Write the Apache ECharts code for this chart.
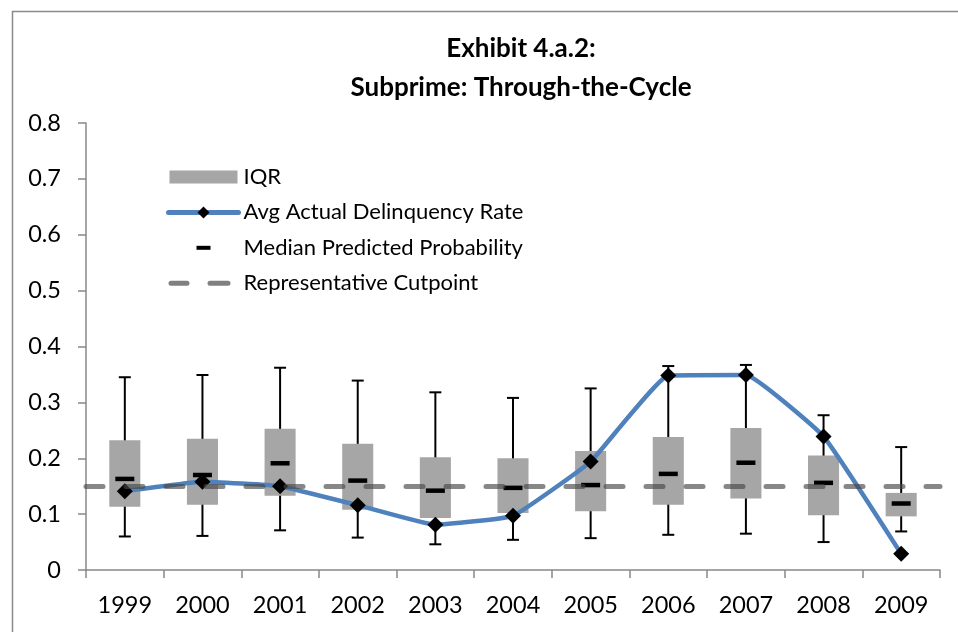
<!DOCTYPE html>
<html>
<head>
<meta charset="utf-8">
<script src="https://cdn.jsdelivr.net/npm/echarts@6/dist/echarts.min.js"></script>
<style>
  html, body { margin: 0; padding: 0; background: #fff; }
  #chart { width: 958px; height: 632px; }
</style>
</head>
<body>
<div id="chart"></div>
<script>
var years = ["1999", "2000", "2001", "2002", "2003", "2004", "2005", "2006", "2007", "2008", "2009"];
var whiskerLow = [0.060, 0.061, 0.071, 0.058, 0.046, 0.054, 0.057, 0.063, 0.065, 0.050, 0.069];
var q1 = [0.113, 0.117, 0.133, 0.108, 0.093, 0.102, 0.105, 0.117, 0.128, 0.098, 0.096];
var q3 = [0.232, 0.235, 0.253, 0.226, 0.202, 0.200, 0.213, 0.238, 0.254, 0.205, 0.138];
var whiskerHigh = [0.345, 0.349, 0.362, 0.339, 0.318, 0.308, 0.325, 0.365, 0.367, 0.277, 0.220];
var medianPred = [0.163, 0.170, 0.191, 0.160, 0.142, 0.147, 0.152, 0.172, 0.192, 0.156, 0.119];
var avgActual = [0.141, 0.158, 0.150, 0.116, 0.081, 0.097, 0.194, 0.348, 0.349, 0.239, 0.029];
var cutpoint = 0.15;
var yTicks = [0, 0.8, 0.1]; // min, max, step

var FONT = "Lato";
var DASH = "rgba(70,70,70,0.65)";
var boxData = years.map(function (y, i) {
  return [i, whiskerLow[i], q1[i], q3[i], whiskerHigh[i]];
});
var medianData = years.map(function (y, i) {
  return [i, medianPred[i]];
});

function renderBox(params, api) {
  var x = api.value(0);
  var low = api.coord([x, api.value(1)]);
  var bot = api.coord([x, api.value(2)]);
  var top = api.coord([x, api.value(3)]);
  var high = api.coord([x, api.value(4)]);
  var bw = api.size([1, 0])[0] * 0.4;
  var cw = 12;
  var st = { stroke: "#000", lineWidth: 2 };
  return {
    type: "group",
    children: [
      { type: "line", shape: { x1: low[0], y1: low[1], x2: high[0], y2: high[1] }, style: st },
      { type: "line", shape: { x1: low[0] - cw / 2, y1: low[1], x2: low[0] + cw / 2, y2: low[1] }, style: st },
      { type: "line", shape: { x1: high[0] - cw / 2, y1: high[1], x2: high[0] + cw / 2, y2: high[1] }, style: st },
      { type: "rect", shape: { x: top[0] - bw / 2, y: top[1], width: bw, height: bot[1] - top[1] }, style: { fill: "#a6a6a6" } }
    ]
  };
}

function renderMedian(params, api) {
  var p = api.coord([api.value(0), api.value(1)]);
  return {
    type: "rect",
    shape: { x: p[0] - 9.5, y: p[1] - 2.25, width: 19, height: 4.5 },
    style: { fill: "#000" }
  };
}

var myChart = echarts.init(document.getElementById("chart"));
var option = {
  animation: false,
  backgroundColor: "#fff",
  graphic: [
    {
      type: "rect",
      left: 10,
      top: 9,
      shape: { width: 1000, height: 700 },
      style: { fill: "none", stroke: "#8a8a8a", lineWidth: 1.5 },
      silent: true
    }
  ],
  title: {
    text: "Exhibit 4.a.2:\nSubprime: Through-the-Cycle",
    left: 516,
    top: 24,
    textAlign: "center",
    textStyle: {
      fontFamily: FONT,
      fontWeight: "bold",
      fontSize: 26,
      lineHeight: 39,
      color: "#000"
    }
  },
  legend: {
    orient: "vertical",
    left: 166,
    top: 166,
    padding: 0,
    itemWidth: 70,
    itemHeight: 15,
    itemGap: 13.4,
    selectedMode: false,
    lineStyle: { width: 5 },
    textStyle: { fontFamily: FONT, fontSize: 22, lineHeight: 22, color: "#000" },
    data: [
      {
        name: "IQR",
        icon: "path://M0,0M70,15M1,1h68v13h-68z",
        itemStyle: { color: "#a6a6a6" }
      },
      { name: "Avg Actual Delinquency Rate" },
      {
        name: "Median Predicted Probability",
        icon: "path://M0,0M70,15M28,5.5h14v4h-14z",
        itemStyle: { color: "#000" }
      },
      {
        name: "Representative Cutpoint",
        icon: "path://M0,0M70,15M2.5,5h16a2.5,2.5 0 0 1 0,5h-16a2.5,2.5 0 0 1 0,-5zM41.5,5h18a2.5,2.5 0 0 1 0,5h-18a2.5,2.5 0 0 1 0,-5z",
        itemStyle: { color: "#808080" }
      }
    ]
  },
  grid: { left: 86, right: 18, top: 123, bottom: 62 },
  xAxis: {
    type: "category",
    data: years,
    boundaryGap: true,
    axisLine: { lineStyle: { color: "#888", width: 1.5 } },
    axisTick: { show: true, length: 8, lineStyle: { color: "#888", width: 1.5 } },
    axisLabel: { color: "#000", fontFamily: FONT, fontSize: 23.5, margin: 23, interval: 0 },
    splitLine: { show: false }
  },
  yAxis: {
    type: "value",
    min: yTicks[0],
    max: yTicks[1],
    interval: yTicks[2],
    axisLine: { show: true, lineStyle: { color: "#888", width: 1.5 } },
    axisTick: { show: true, length: 8, lineStyle: { color: "#888", width: 1.5 } },
    axisLabel: { color: "#000", fontFamily: FONT, fontSize: 23.5, margin: 25 },
    splitLine: { show: false }
  },
  series: [
    {
      name: "IQR",
      type: "custom",
      renderItem: renderBox,
      data: boxData,
      encode: { x: 0, y: [1, 2, 3, 4] },
      itemStyle: { color: "#a6a6a6" },
      z: 2
    },
    {
      name: "Median Predicted Probability",
      type: "custom",
      renderItem: renderMedian,
      data: medianData,
      encode: { x: 0, y: 1 },
      itemStyle: { color: "#000" },
      z: 3
    },
    {
      name: "Avg Actual Delinquency Rate",
      type: "line",
      data: avgActual,
      smooth: 0.1,
      symbol: "diamond",
      symbolSize: 16,
      itemStyle: { color: "#000" },
      lineStyle: { color: "#4f81bd", width: 4.5, cap: "round", join: "round" },
      z: 4
    },
    {
      name: "Representative Cutpoint",
      type: "line",
      data: [],
      symbol: "none",
      itemStyle: { color: "#808080" },
      lineStyle: { color: DASH, width: 5, type: [17, 23], cap: "round" },
      markLine: {
        silent: true,
        symbol: "none",
        label: { show: false },
        lineStyle: { color: DASH, width: 5, type: [17, 23], cap: "round" },
        data: [{ yAxis: cutpoint }]
      },
      z: 5
    }
  ]
};
option && myChart.setOption(option);
</script>
</body>
</html>
